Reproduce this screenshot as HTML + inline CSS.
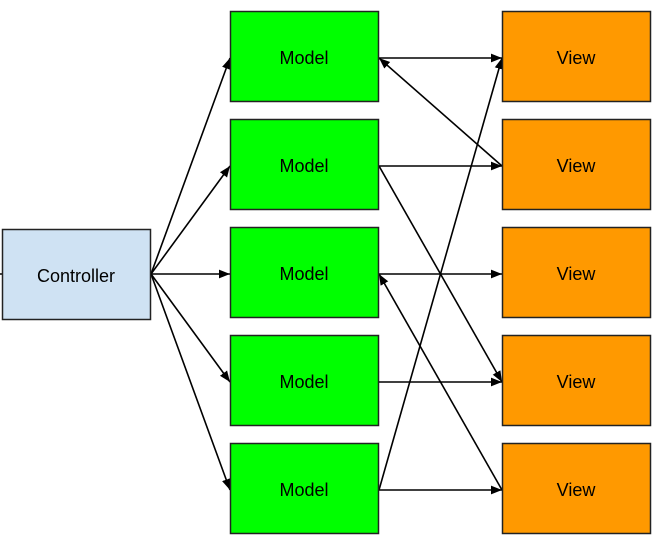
<!DOCTYPE html>
<html><head><meta charset="utf-8"><style>
html,body{margin:0;padding:0;background:#fff;width:670px;height:550px;overflow:hidden}
svg{display:block}
text{font-family:"Liberation Sans",Arial,sans-serif;font-size:18px;fill:#000}
</style></head><body>
<svg id="diag" width="670" height="550" viewBox="0 0 670 550" xmlns="http://www.w3.org/2000/svg">
<defs><marker id="ah" viewBox="0 0 10 10" refX="10" refY="5" markerWidth="11" markerHeight="11" markerUnits="userSpaceOnUse" orient="auto"><path d="M0,1 L10,5 L0,9 z" fill="#000"/></marker></defs>
<line x1="0" y1="274" x2="2" y2="274" stroke="#000" stroke-width="1.5"/>
</svg>
<script>
const rowsY = [11, 119, 227, 335, 443];
const modelLabels = ["Model","Model","Model","Model","Model"];
const viewLabels = ["View","View","View","View","View"];
// edges: [from, to] where c=controller, mN=model N, vN=view N
const edges = [["c","m0"],["c","m1"],["c","m2"],["c","m3"],["c","m4"],
 ["m0","v0"],["v1","m0"],["m1","v1"],["m1","v3"],["m2","v2"],["v4","m2"],["m3","v3"],["m4","v0"],["m4","v4"]];
const svg=document.getElementById('diag');
const NS='http://www.w3.org/2000/svg';
const W=148,H=90;
function box(x,y,fill,label,name){
 const g=document.createElementNS(NS,'g');
 
 
 const r=document.createElementNS(NS,'rect');
 r.setAttribute('x',x+0.5);r.setAttribute('y',y+0.5);r.setAttribute('width',W);r.setAttribute('height',H);
 r.setAttribute('fill',fill);r.setAttribute('stroke','#222');r.setAttribute('stroke-width','1.5');
 const t=document.createElementNS(NS,'text');
 t.setAttribute('x',x+W/2);t.setAttribute('y',y+H/2+8);t.setAttribute('text-anchor','middle');
 t.textContent=label;
 g.appendChild(r);g.appendChild(t);svg.appendChild(g);
}
const pts={c:{r:[151,274]}};
rowsY.forEach((y,i)=>{pts['m'+i]={l:[230,y+47],r:[379,y+47]};pts['v'+i]={l:[502,y+47]};});
edges.forEach(([a,b])=>{
 let p1,p2;
 if(a==='c'){p1=pts.c.r;p2=pts[b].l;}
 else if(a[0]==='m'){p1=pts[a].r;p2=pts[b].l;}
 else {p1=pts[a].l;p2=pts[b].r;}
 const l=document.createElementNS(NS,'line');
 
 
 l.setAttribute('x1',p1[0]);l.setAttribute('y1',p1[1]);l.setAttribute('x2',p2[0]);l.setAttribute('y2',p2[1]);
 l.setAttribute('stroke','#000');l.setAttribute('stroke-width','1.6');l.setAttribute('marker-end','url(#ah)');
 svg.appendChild(l);
});
box(2,229,'#cfe2f3','Controller','controller-box');
rowsY.forEach((y,i)=>{box(230,y,'#00ff00',modelLabels[i],'model-box-'+(i+1));box(502,y,'#ff9900',viewLabels[i],'view-box-'+(i+1));});
</script>
</body></html>
